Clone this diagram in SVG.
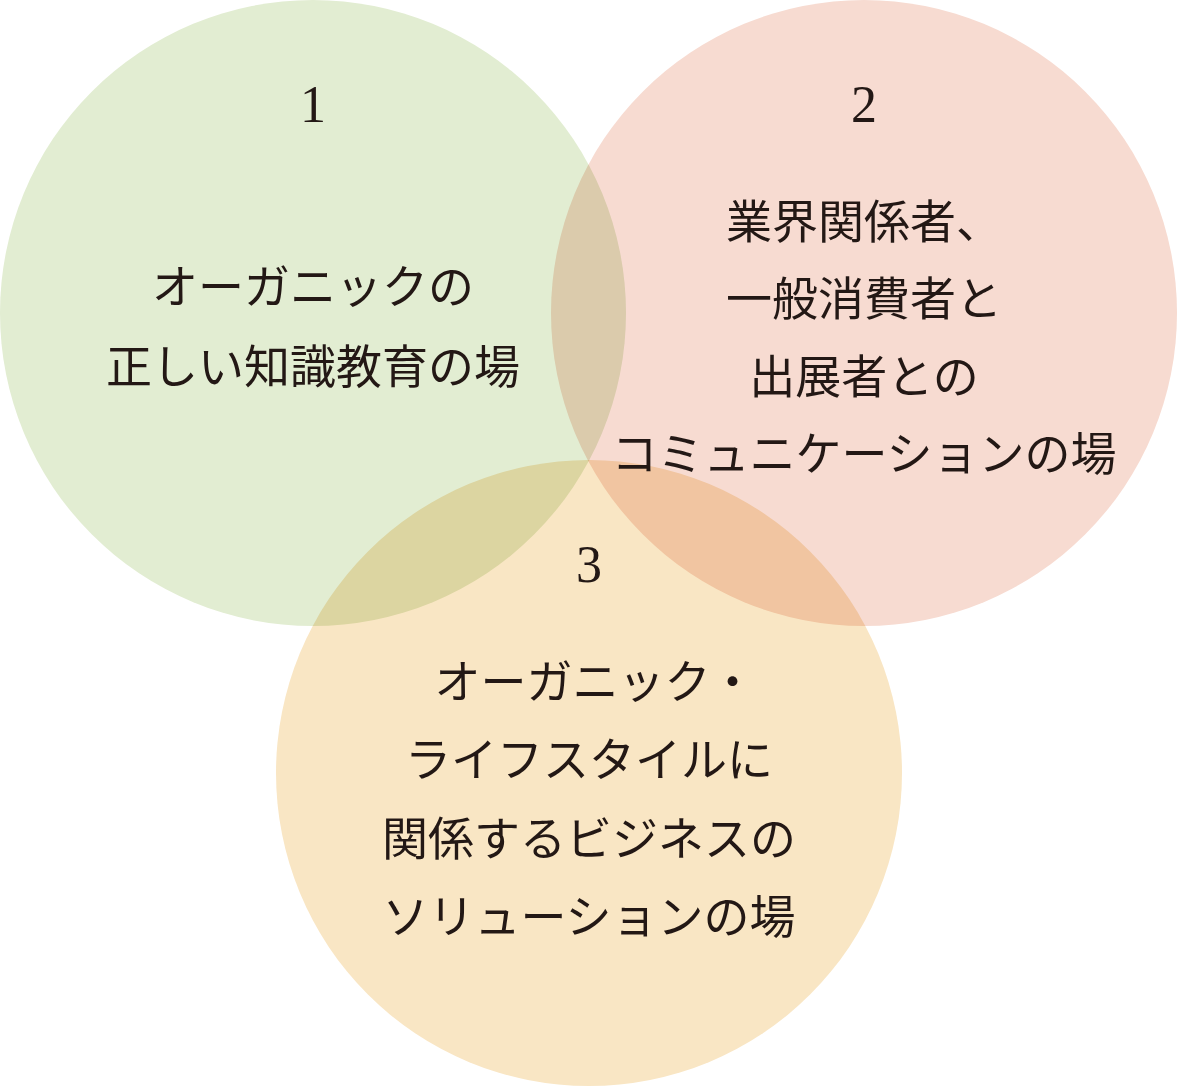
<svg xmlns="http://www.w3.org/2000/svg" width="1177" height="1086" viewBox="0 0 1177 1086">
<style>
.c{mix-blend-mode:multiply}
.n{font-family:"Liberation Serif",serif;font-size:52px;fill:#231815;text-anchor:middle}
.t{font-family:"Noto Sans CJK JP",sans-serif;font-size:46px;fill:#231815;text-anchor:middle}
</style>
<rect width="1177" height="1086" fill="#fff"/>
<g id="node1"><circle class="c" cx="313" cy="313" r="313" fill="#e2edd2"/></g>
<g id="node2"><circle class="c" cx="864" cy="313" r="313" fill="#f7dbd1"/></g>
<g id="node3"><circle class="c" cx="589" cy="773" r="313" fill="#f9e6c4"/></g>
<g id="labels1">
<text class="n" x="313" y="122">1</text>
<text class="t" x="313" y="303">オーガニックの</text>
<text class="t" x="313" y="383">正しい知識教育の場</text>
</g>
<g id="labels2">
<text class="n" x="864" y="122">2</text>
<text class="t" x="864" y="238">業界関係者、</text>
<text class="t" x="864" y="315">一般消費者と</text>
<text class="t" x="864" y="393">出展者との</text>
<text class="t" x="864" y="470">コミュニケーションの場</text>
</g>
<g id="labels3">
<text class="n" x="589" y="582">3</text>
<text class="t" x="595" y="698">オーガニック・</text>
<text class="t" x="589" y="776">ライフスタイルに</text>
<text class="t" x="589" y="855">関係するビジネスの</text>
<text class="t" x="589" y="933">ソリューションの場</text>
</g>
<g id="connectors"></g>
</svg>
